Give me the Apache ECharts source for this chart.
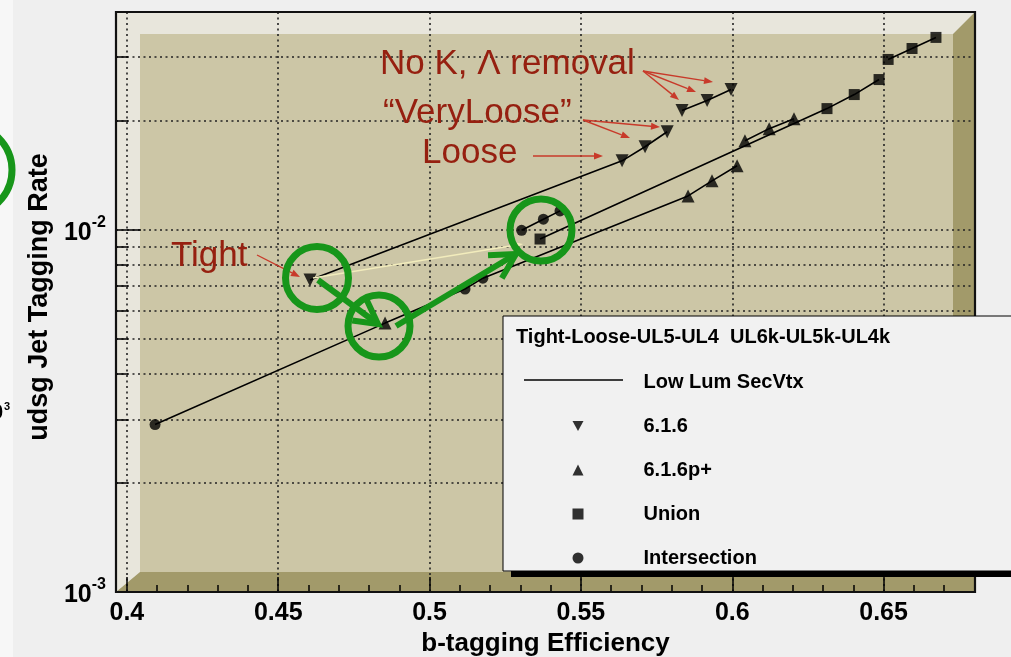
<!DOCTYPE html>
<html><head><meta charset="utf-8">
<script src="https://cdn.jsdelivr.net/npm/echarts@6/dist/echarts.min.js"></script>
<style>html,body{margin:0;padding:0;background:#efefef;}#c{width:1011px;height:657px;}</style>
</head><body><div id="c"></div>
<script>
// ---- axis ticks ----
const xMajorTicks = [0.4, 0.45, 0.5, 0.55, 0.6, 0.65];
const xMinorTicks = [0.41,0.42,0.43,0.44,0.46,0.47,0.48,0.49,0.51,0.52,0.53,0.54,0.56,0.57,0.58,0.59,0.61,0.62,0.63,0.64,0.66,0.67];
const yMajorTicks = [0.001, 0.01];
const yMinorTicks = [0.002,0.003,0.004,0.005,0.006,0.007,0.008,0.009,0.01,0.02,0.03];

// ---- curves (b-tag efficiency, udsg mistag rate) and their marker types ----
// v = 6.1.6, ^ = 6.1.6p+, s = Union, o = Intersection
const curve616Eff   = [0.4605, 0.5636, 0.5712, 0.5785];
const curve616Rate  = [0.00727, 0.01552, 0.01698, 0.01868];
const curve616Mark  = ['v','v','v','v'];

const curveNoKEff   = [0.5834, 0.5917, 0.5996];
const curveNoKRate  = [0.02137, 0.02277, 0.02442];
const curveNoKMark  = ['v','v','v'];

const curveLowEff   = [0.4093, 0.4853, 0.5117, 0.5176, 0.5854, 0.5933, 0.6016];
const curveLowRate  = [0.00290, 0.00553, 0.00687, 0.00736, 0.01242, 0.01367, 0.01504];
const curveLowMark  = ['o','^','o','o','^','^','^'];

const curveInterEff  = [0.5304, 0.5376, 0.5431];
const curveInterRate = [0.00998, 0.01071, 0.01129];
const curveInterMark = ['o','o','o'];

const curveUnionEff  = [0.5365, 0.6313, 0.6403, 0.6485];
const curveUnionRate = [0.00944, 0.02164, 0.02366, 0.02603];
const curveUnionMark = ['s','s','s','s'];

const curveUnionHiEff  = [0.6515, 0.6594, 0.6673];
const curveUnionHiRate = [0.02958, 0.03171, 0.03403];
const curveUnionHiMark = ['s','s','s'];

const curvePlusEff  = [0.6042, 0.6122, 0.6204];
const curvePlusRate = [0.01764, 0.01905, 0.02030];
const curvePlusMark = ['^','^','^'];

const lineName = 'Low Lum SecVtx';
const markerNames = {v:'6.1.6', '^':'6.1.6p+', s:'Union', o:'Intersection'};
const legendTitle = 'Tight-Loose-UL5-UL4  UL6k-UL5k-UL4k';

const curves = [
  [curve616Eff, curve616Rate, curve616Mark],
  [curveNoKEff, curveNoKRate, curveNoKMark],
  [curveLowEff, curveLowRate, curveLowMark],
  [curveInterEff, curveInterRate, curveInterMark],
  [curveUnionEff, curveUnionRate, curveUnionMark],
  [curveUnionHiEff, curveUnionHiRate, curveUnionHiMark],
  [curvePlusEff, curvePlusRate, curvePlusMark]
];

const FONT = '"Liberation Sans", Arial, Helvetica, sans-serif';
const series = [];
curves.forEach(c => {
  series.push({
    type:'line', name: lineName, data: c[0].map((x,i)=>[x, c[1][i]]),
    symbol:'none', lineStyle:{color:'#000', width:1.6}, itemStyle:{color:'#000'},
    z:3, animation:false, silent:true
  });
});
const markerStyle = {
  v:{symbol:'triangle', symbolRotate:180, symbolSize:13},
  '^':{symbol:'triangle', symbolRotate:0, symbolSize:13},
  s:{symbol:'rect', symbolRotate:0, symbolSize:11},
  o:{symbol:'circle', symbolRotate:0, symbolSize:11}
};
['v','^','s','o'].forEach(k => {
  const data = [];
  curves.forEach(c => c[2].forEach((m,i) => { if (m===k) data.push([c[0][i], c[1][i]]); }));
  series.push(Object.assign({
    type:'scatter', name: markerNames[k], data, itemStyle:{color:'#000'}, z:4, animation:false, silent:true
  }, markerStyle[k]));
});

// ---- frame geometry (pixels) ----
const L=116, T=12, R=975, B=592, bw=24, bh=22, bb=20, br=22;

function arrow(x1,y1,x2,y2,color,lw,head,hw,z){
  const dx=x2-x1, dy=y2-y1, len=Math.hypot(dx,dy), ux=dx/len, uy=dy/len;
  const bx=x2-ux*head, by=y2-uy*head, px=-uy, py=ux;
  return [
    {type:'line', shape:{x1,y1,x2:bx,y2:by}, style:{stroke:color, lineWidth:lw}, z, silent:true},
    {type:'polygon', shape:{points:[[x2,y2],[bx+px*hw,by+py*hw],[bx-px*hw,by-py*hw]]}, style:{fill:color}, z, silent:true}
  ];
}
function vArrow(x1,y1,x2,y2,color,lw,head,z){
  const a=Math.atan2(y2-y1,x2-x1), s=0.5;
  return [
    {type:'line', shape:{x1,y1,x2,y2}, style:{stroke:color, lineWidth:lw, lineCap:'butt'}, z, silent:true},
    {type:'polyline', shape:{points:[[x2-head*Math.cos(a-s), y2-head*Math.sin(a-s)],[x2,y2],[x2-head*Math.cos(a+s), y2-head*Math.sin(a+s)]]},
     style:{stroke:color, lineWidth:lw, lineJoin:'miter', fill:null}, z, silent:true}
  ];
}
const RED='#962010', REDA='#c83a2a', GREEN='#17961a';
function redText(t,x,y){ return {type:'text', left:x, top:y-17, z:80, silent:true,
  style:{text:t, x:0, y:0, fill:RED, font:'35px '+FONT}}; }

const graphics = [
  {type:'rect', shape:{x:0,y:0,width:1011,height:657}, style:{fill:'#efefef'}, z:-30, silent:true},
  {type:'rect', shape:{x:0,y:0,width:13,height:657}, style:{fill:'#f7f7f7'}, z:-29, silent:true},
  {type:'polygon', shape:{points:[[L,T],[R,T],[R-br,T+bh],[L+bw,T+bh],[L+bw,B-bb],[L,B]]}, style:{fill:'#e8e6dc'}, z:-20, silent:true},
  {type:'polygon', shape:{points:[[R,T],[R,B],[L,B],[L+bw,B-bb],[R-br,B-bb],[R-br,T+bh]]}, style:{fill:'#a29a6a'}, z:-20, silent:true},
  {type:'rect', shape:{x:L+bw,y:T+bh,width:R-br-L-bw,height:B-bb-T-bh}, style:{fill:'#ccc6a6'}, z:-20, silent:true},
  {type:'rect', shape:{x:L,y:T,width:R-L,height:B-T}, style:{fill:null, stroke:'#111', lineWidth:2.2}, z:1, silent:true},
  // cut-off label of neighbouring slide
  {type:'text', left:-9, top:402, z:5, silent:true, style:{text:'0', font:'bold 22px '+FONT, fill:'#000'}},
  {type:'text', left:4, top:401, z:5, silent:true, style:{text:'3', font:'bold 11px '+FONT, fill:'#000'}},
  // legend box
  {type:'rect', shape:{x:511,y:571,width:520,height:6}, style:{fill:'#000'}, z:49, silent:true},
  {type:'rect', shape:{x:503,y:316,width:520,height:255}, style:{fill:'#f1f1f1', stroke:'#000', lineWidth:1}, z:50, silent:true},
  {type:'text', left:516, top:327, z:60, silent:true, style:{text:legendTitle, font:'bold 20px '+FONT, fill:'#000'}},
  {type:'line', shape:{x1:524,y1:380,x2:623,y2:380}, style:{stroke:'#000', lineWidth:1.6}, z:60, silent:true},
  // red annotations
  redText('No K, \u039B removal', 380, 64),
  redText('\u201CVeryLoose\u201D', 383, 113),
  redText('Loose', 422, 153),
  redText('Tight', 171, 256),
  ...arrow(643,71,679,100,REDA,1.4,9,3.5,80),
  ...arrow(643,71,696,92,REDA,1.4,9,3.5,80),
  ...arrow(643,71,713,82,REDA,1.4,9,3.5,80),
  ...arrow(583,120,630,138,REDA,1.4,9,3.5,80),
  ...arrow(583,120,660,127,REDA,1.4,9,3.5,80),
  ...arrow(533,156,603,156,REDA,1.4,9,3.5,80),
  ...arrow(257,255,300,277,REDA,1.4,9,3.5,80),
  ...arrow(313,278,523,244,'#f2ecbc',1.4,8,3,6),
  // green annotations
  {type:'circle', shape:{cx:317,cy:278,r:31.5}, style:{fill:null, stroke:GREEN, lineWidth:7}, z:90, silent:true},
  {type:'circle', shape:{cx:379,cy:326,r:31}, style:{fill:null, stroke:GREEN, lineWidth:7}, z:90, silent:true},
  {type:'circle', shape:{cx:541,cy:230,r:31}, style:{fill:null, stroke:GREEN, lineWidth:7}, z:90, silent:true},
  {type:'circle', shape:{cx:-33,cy:170,r:45}, style:{fill:null, stroke:GREEN, lineWidth:7}, z:90, silent:true},
  ...vArrow(318,280,378,324,GREEN,6,26,90),
  ...vArrow(396,326,516,254,GREEN,6,28,90)
];

const tickLine = {color:'#000', width:1.5};
const gridLine = {show:true, lineStyle:{color:'#222', width:1.6, type:[2,3.5]}};
const option = {
  animation:false,
  grid:{left:L, top:T, width:R-L, height:B-T, containLabel:false, outerBoundsMode:'none'},
  xAxis:[
    {type:'value', min:0.3964, max:0.6802, position:'bottom',
     axisLine:{show:false},
     axisTick:{show:true, inside:true, length:15, customValues:xMajorTicks, lineStyle:tickLine},
     axisLabel:{show:true, customValues:xMajorTicks, margin:9, color:'#000', fontFamily:FONT, fontWeight:'bold', fontSize:25,
       formatter:v=>String(+(+v).toFixed(2))},
     splitLine:gridLine,
     name:'b-tagging Efficiency', nameLocation:'middle', nameGap:36,
     nameTextStyle:{color:'#000', fontFamily:FONT, fontWeight:'bold', fontSize:26}},
    {type:'value', min:0.3964, max:0.6802, position:'bottom',
     axisLine:{show:false},
     axisTick:{show:true, inside:true, length:7, customValues:xMinorTicks, lineStyle:tickLine},
     axisLabel:{show:false}, splitLine:{show:false}}
  ],
  yAxis:[
    {type:'log', logBase:10, min:0.001, max:0.04, position:'left',
     axisLine:{show:false},
     axisTick:{show:true, inside:true, length:25, customValues:yMajorTicks, lineStyle:tickLine},
     axisLabel:{show:true, customValues:yMajorTicks, margin:10, color:'#000', verticalAlign:'middle',
       formatter:v=>'{b|10}{s|' + Math.round(Math.log10(v)) + '}',
       rich:{b:{fontFamily:FONT, fontWeight:'bold', fontSize:25, lineHeight:30, padding:[6,0,0,0], color:'#000'},
             s:{fontFamily:FONT, fontWeight:'bold', fontSize:16, lineHeight:16, verticalAlign:'top', color:'#000'}}},
     splitLine:{show:false},
     name:'udsg Jet Tagging Rate', nameLocation:'middle', nameGap:58,
     nameTextStyle:{color:'#000', fontFamily:FONT, fontWeight:'bold', fontSize:27, padding:[0,0,0,10]}},
    {type:'log', logBase:10, min:0.001, max:0.04, position:'left',
     axisLine:{show:false},
     axisTick:{show:true, inside:true, length:12, customValues:yMinorTicks, lineStyle:tickLine},
     axisLabel:{show:false}, splitLine:gridLine}
  ],
  legend:{orient:'vertical', left:567.5, top:367, itemWidth:11, itemHeight:11, itemGap:24,
    selectedMode:false, z:60,
    textStyle:{fontFamily:FONT, fontWeight:'bold', fontSize:20, color:'#000', padding:[0,0,0,55]},
    data:[
      {name:lineName, icon:'rect', itemStyle:{color:'rgba(0,0,0,0)', borderWidth:0}},
      {name:markerNames.v, icon:'path://M0,0L10,0L5,9Z', itemStyle:{color:'#000'}},
      {name:markerNames['^'], icon:'triangle', itemStyle:{color:'#000'}},
      {name:markerNames.s, icon:'rect', itemStyle:{color:'#000'}},
      {name:markerNames.o, icon:'circle', itemStyle:{color:'#000'}}
    ]},
  graphic:{elements:graphics},
  series
};
const chart = echarts.init(document.getElementById('c'));
chart.setOption(option);
</script></body></html>
